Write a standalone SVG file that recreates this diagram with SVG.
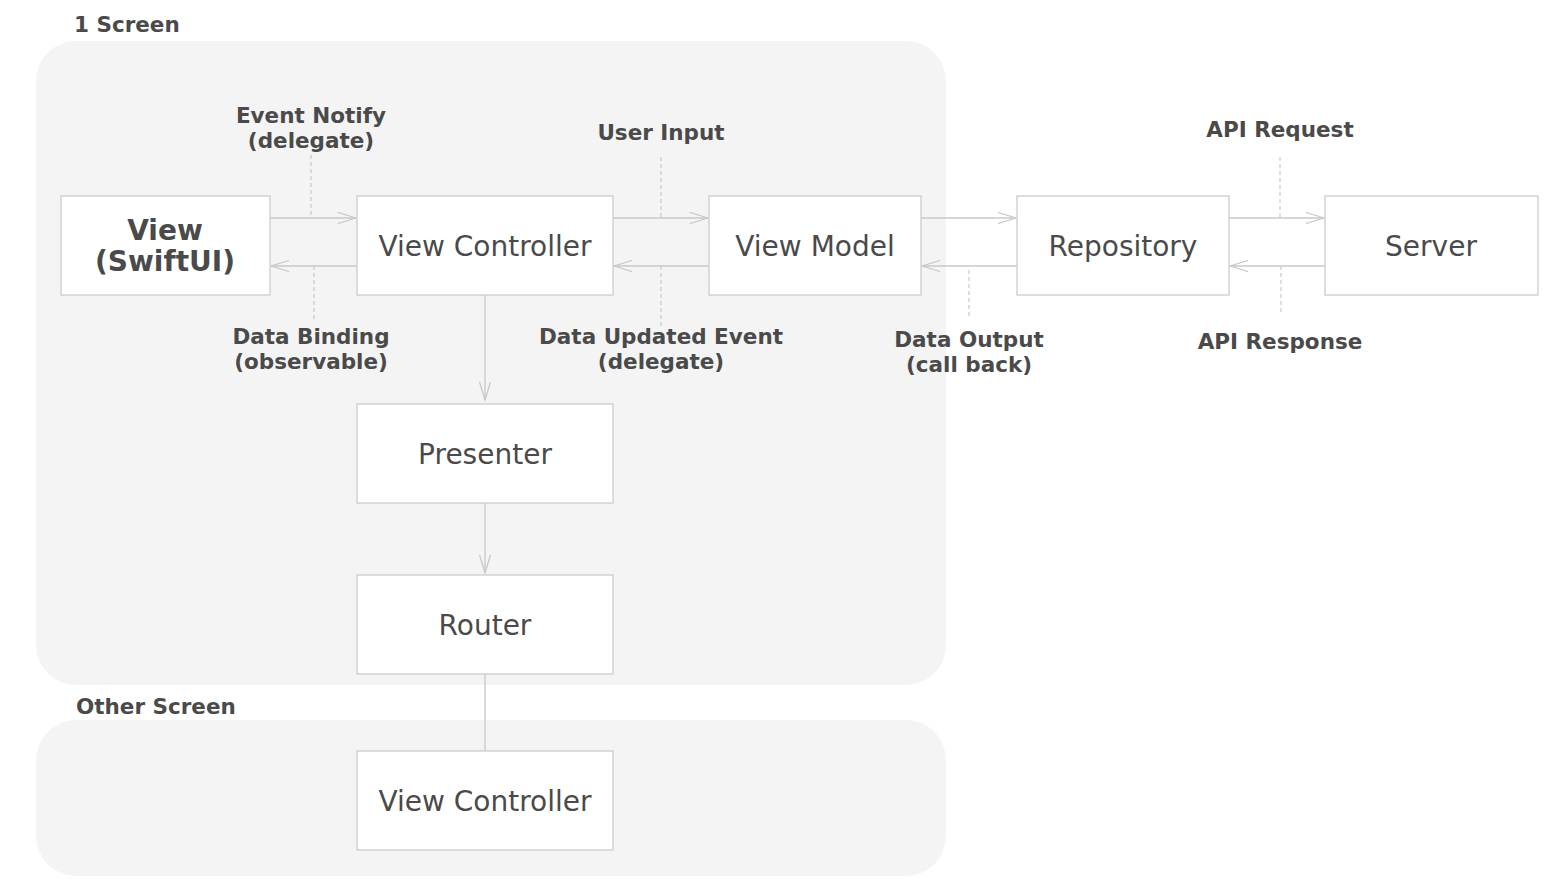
<svg xmlns="http://www.w3.org/2000/svg" width="1560" height="893" viewBox="0 0 1560 893">
<style>
.bg{fill:#ffffff}
.cont{fill:#f4f4f4}
.node{fill:#ffffff;stroke:#cccccc;stroke-width:1.3}
.ntxt{font-family:"DejaVu Sans",Verdana,sans-serif;font-size:28px;fill:#4a4a4a;text-anchor:middle}
.ntxtb{font-family:"DejaVu Sans",Verdana,sans-serif;font-size:28px;font-weight:bold;fill:#4a4a4a;text-anchor:middle}
.lbl{font-family:"DejaVu Sans",Verdana,sans-serif;font-size:21.5px;font-weight:bold;fill:#4a4a4a;text-anchor:middle}
.title{font-family:"DejaVu Sans",Verdana,sans-serif;font-size:21.5px;font-weight:bold;fill:#4a4a4a}
.line{fill:none;stroke:#c8c8c8;stroke-width:1.3}
.dash{fill:none;stroke:#c8c8c8;stroke-width:1.2;stroke-dasharray:4 3}
</style>
<defs>
<marker id="arr" viewBox="0 0 20 12" markerWidth="20" markerHeight="12" markerUnits="userSpaceOnUse" refX="19" refY="6" orient="auto">
<path d="M1,0.5 L19,6 L1,11.5" fill="none" stroke="#c8c8c8" stroke-width="1.3"/>
</marker>
</defs>
<rect class="bg" x="0" y="0" width="1560" height="893"/>
<g id="containers">
<rect class="cont" x="36" y="41" width="910" height="644" rx="40" ry="40"/>
<text class="title" x="74" y="32">1 Screen</text>
<rect class="cont" x="36" y="720" width="910" height="156" rx="40" ry="40"/>
<text class="title" x="76" y="714">Other Screen</text>
</g>
<g id="connectors">
<line class="line" x1="270" y1="218" x2="356" y2="218" marker-end="url(#arr)"/>
<line class="line" x1="357" y1="266" x2="271" y2="266" marker-end="url(#arr)"/>
<line class="line" x1="613" y1="218" x2="708" y2="218" marker-end="url(#arr)"/>
<line class="line" x1="709" y1="266" x2="614" y2="266" marker-end="url(#arr)"/>
<line class="line" x1="921" y1="218" x2="1016" y2="218" marker-end="url(#arr)"/>
<line class="line" x1="1017" y1="266" x2="922" y2="266" marker-end="url(#arr)"/>
<line class="line" x1="1229" y1="218" x2="1324" y2="218" marker-end="url(#arr)"/>
<line class="line" x1="1325" y1="266" x2="1230" y2="266" marker-end="url(#arr)"/>
<line class="line" x1="485" y1="295" x2="485" y2="400" marker-end="url(#arr)"/>
<line class="line" x1="485" y1="503" x2="485" y2="573" marker-end="url(#arr)"/>
<line class="line" x1="485" y1="674" x2="485" y2="751"/>
<line class="dash" x1="311" y1="155" x2="311" y2="218"/>
<line class="dash" x1="314" y1="266" x2="314" y2="322"/>
<line class="dash" x1="661" y1="157" x2="661" y2="218"/>
<line class="dash" x1="661" y1="266" x2="661" y2="327"/>
<line class="dash" x1="969" y1="270" x2="969" y2="316"/>
<line class="dash" x1="1280" y1="157" x2="1280" y2="218"/>
<line class="dash" x1="1281" y1="266" x2="1281" y2="313"/>
</g>
<g id="labels">
<text class="lbl" x="311" y="123">Event Notify</text>
<text class="lbl" x="311" y="148">(delegate)</text>
<text class="lbl" x="661" y="140">User Input</text>
<text class="lbl" x="1280" y="137">API Request</text>
<text class="lbl" x="311" y="344">Data Binding</text>
<text class="lbl" x="311" y="369">(observable)</text>
<text class="lbl" x="661" y="344">Data Updated Event</text>
<text class="lbl" x="661" y="369">(delegate)</text>
<text class="lbl" x="969" y="347">Data Output</text>
<text class="lbl" x="969" y="372">(call back)</text>
<text class="lbl" x="1280" y="349">API Response</text>
</g>
<g id="node-view">
<rect class="node" x="61" y="196" width="209" height="99"/>
<text class="ntxtb" x="165" y="240">View</text>
<text class="ntxtb" x="165" y="271">(SwiftUI)</text>
</g>
<g id="node-viewcontroller">
<rect class="node" x="357" y="196" width="256" height="99"/>
<text class="ntxt" x="485" y="256">View Controller</text>
</g>
<g id="node-viewmodel">
<rect class="node" x="709" y="196" width="212" height="99"/>
<text class="ntxt" x="815" y="256">View Model</text>
</g>
<g id="node-repository">
<rect class="node" x="1017" y="196" width="212" height="99"/>
<text class="ntxt" x="1123" y="256">Repository</text>
</g>
<g id="node-server">
<rect class="node" x="1325" y="196" width="213" height="99"/>
<text class="ntxt" x="1431" y="256">Server</text>
</g>
<g id="node-presenter">
<rect class="node" x="357" y="404" width="256" height="99"/>
<text class="ntxt" x="485" y="464">Presenter</text>
</g>
<g id="node-router">
<rect class="node" x="357" y="575" width="256" height="99"/>
<text class="ntxt" x="485" y="635">Router</text>
</g>
<g id="node-other-viewcontroller">
<rect class="node" x="357" y="751" width="256" height="99"/>
<text class="ntxt" x="485" y="811">View Controller</text>
</g>
</svg>
